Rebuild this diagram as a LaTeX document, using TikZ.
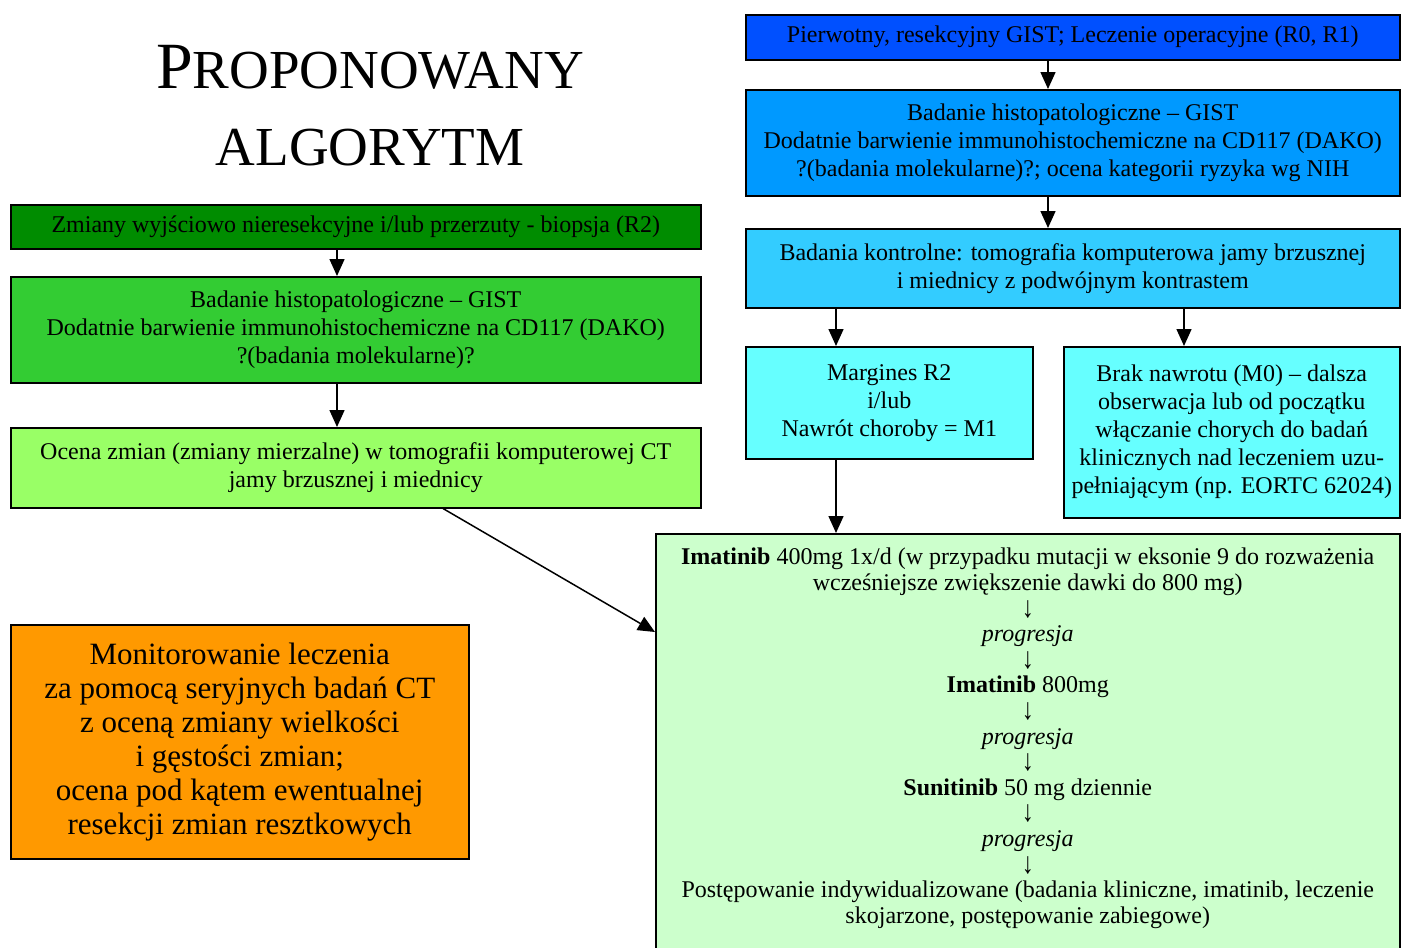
\documentclass[tikz,border=0pt]{standalone}
\usepackage{fontspec}
\usepackage{graphicx}
\setmainfont{Liberation Serif}
\usetikzlibrary{arrows.meta, positioning}
\definecolor{ciemnyzielony}{RGB}{0,140,0}
\definecolor{zielony}{RGB}{51,204,51}
\definecolor{jasnyzielony}{RGB}{153,255,102}
\definecolor{bladyzielony}{RGB}{204,255,204}
\definecolor{pomarancz}{RGB}{255,153,0}
\definecolor{niebieski}{RGB}{0,80,255}
\definecolor{blekit}{RGB}{0,153,255}
\definecolor{jasnyblekit}{RGB}{51,204,255}
\definecolor{cyjan}{RGB}{102,255,255}
\newcommand{\wdol}{\raisebox{-1pt}[14pt][2pt]{\scalebox{1}[1.25]{↓}}}
\tikzset{
  box/.style={
    rectangle, anchor=north west,
    draw, line width=1.5pt, align=center, inner sep=0pt,
    font=\fontsize{24}{28}\selectfont,
  },
  arrow/.style={-{Triangle[length=17pt, width=15pt]}, line width=1.5pt},
}
\begin{document}
\begin{tikzpicture}[x=1pt, y=-1pt]
  \useasboundingbox[fill=white] (0,0) rectangle (1401,948);

  % tytul
  \node[align=center, anchor=base, font=\fontsize{55}{77}\selectfont] (tytul) at (370,165)
    {{\fontsize{66}{66}\selectfont P}ROPONOWANY\\ALGORYTM};

  % lewa kolumna
  \node[box, fill=ciemnyzielony, minimum width=690pt, minimum height=44pt] (zmiany) at (10,204)
    {Zmiany wyjściowo nieresekcyjne i/lub przerzuty - biopsja (R2)};
  \node[box, fill=zielony, minimum width=690pt, minimum height=106pt] (histlewy) at (10,276)
    {Badanie histopatologiczne – GIST\\Dodatnie barwienie immunohistochemiczne na CD117 (DAKO)\\?(badania molekularne)?};
  \node[box, fill=jasnyzielony, minimum width=690pt, minimum height=80pt] (ocena) at (10,427)
    {Ocena zmian (zmiany mierzalne) w tomografii komputerowej CT\\jamy brzusznej i miednicy};
  \node[box, fill=pomarancz, minimum width=458pt, minimum height=234pt,
        font=\fontsize{31}{34}\selectfont] (monitor) at (10,624)
    {Monitorowanie leczenia\\za pomocą seryjnych badań CT\\z oceną zmiany wielkości\\i gęstości zmian;\\ocena pod kątem ewentualnej\\resekcji zmian resztkowych};

  % prawa kolumna
  \node[box, fill=niebieski, minimum width=654pt, minimum height=45pt] (pierwotny) at (745,14)
    {Pierwotny, resekcyjny GIST; Leczenie operacyjne (R0, R1)};
  \node[box, fill=blekit, minimum width=654pt, minimum height=106pt] (histprawy) at (745,89)
    {Badanie histopatologiczne – GIST\\Dodatnie barwienie immunohistochemiczne na CD117 (DAKO)\\?(badania molekularne)?; ocena kategorii ryzyka wg NIH};
  \node[box, fill=jasnyblekit, minimum width=654pt, minimum height=79pt] (kontrolne) at (745,228)
    {Badania kontrolne: tomografia komputerowa jamy brzusznej\\i miednicy z podwójnym kontrastem};
  \node[box, fill=cyjan, minimum width=287pt, minimum height=112pt] (margines) at (745,346)
    {Margines R2\\i/lub\\Nawrót choroby = M1};
  \node[box, fill=cyjan, minimum width=336pt, minimum height=171pt] (brak) at (1063,346)
    {Brak nawrotu (M0) – dalsza\\obserwacja lub od początku\\włączanie chorych do badań\\klinicznych nad leczeniem uzu-\\pełniającym (np. EORTC 62024)};
  \node[box, fill=bladyzielony, minimum width=744pt, minimum height=440pt] (leczenie) at (655,533) {};
  \node[align=center, anchor=north, inner sep=0pt, font=\fontsize{24}{25.6}\selectfont] (schemat)
    at ([yshift=-15pt]leczenie.north)
    {\textbf{Imatinib} 400mg 1x/d (w przypadku mutacji w eksonie 9 do rozważenia\\
     wcześniejsze zwiększenie dawki do 800 mg)\\
     \wdol\\\textit{progresja}\\\wdol\\
     \textbf{Imatinib} 800mg\\
     \wdol\\\textit{progresja}\\\wdol\\
     \textbf{Sunitinib} 50 mg dziennie\\
     \wdol\\\textit{progresja}\\\wdol\\
     Postępowanie indywidualizowane (badania kliniczne, imatinib, leczenie\\
     skojarzone, postępowanie zabiegowe)};

  % punkty pomocnicze strzalek
  \coordinate (xl) at (337,0);
  \coordinate (xr) at (1048,0);
  \coordinate (xm) at (836,0);
  \coordinate (xb) at (1184,0);
  \coordinate (xd) at (443,0);
  \coordinate (yd) at (0,632);

  \draw[arrow] (zmiany.south -| xl) -- (histlewy.north -| xl);
  \draw[arrow] (histlewy.south -| xl) -- (ocena.north -| xl);
  \draw[arrow] (ocena.south -| xd) -- (leczenie.west |- yd);
  \draw[arrow] (pierwotny.south -| xr) -- (histprawy.north -| xr);
  \draw[arrow] (histprawy.south -| xr) -- (kontrolne.north -| xr);
  \draw[arrow] (kontrolne.south -| xm) -- (margines.north -| xm);
  \draw[arrow] (kontrolne.south -| xb) -- (brak.north -| xb);
  \draw[arrow] (margines.south -| xm) -- (leczenie.north -| xm);
\end{tikzpicture}
\end{document}
